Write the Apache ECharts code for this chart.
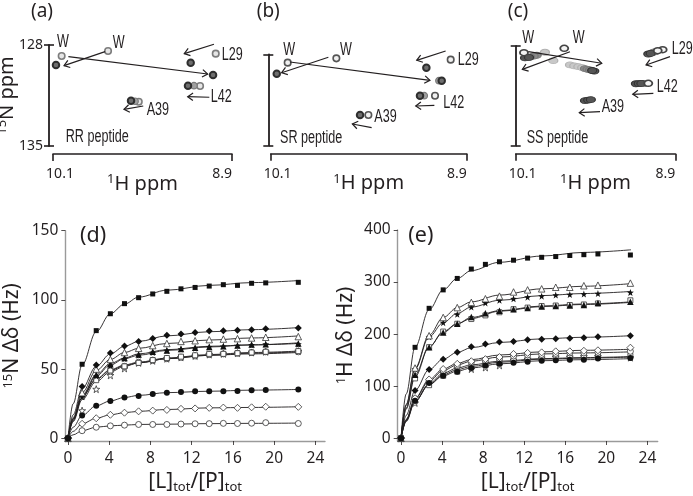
<!DOCTYPE html>
<html><head><meta charset="utf-8">
<style>html,body{margin:0;padding:0;background:#fff}#c{width:693px;height:496px}</style>
<script src="https://cdn.jsdelivr.net/npm/echarts@6/dist/echarts.min.js"></script>
</head><body><div id="c"></div>
<script>
// ---------- titration panels (d), (e) ----------
const ratioX = [0,1.37,2.74,4.11,5.48,6.85,8.22,9.59,10.96,12.33,13.7,15.07,16.44,17.81,19.18,22.34];
const curveX = [0,0.5,1.37,2.74,4.11,5.48,6.85,9.59,13.7,17.81,22.4];
const xTicks = [0,4,8,12,16,20,24];
const dTicks = [0,50,100,150];
const eTicks = [0,100,200,300,400];

const dSquareF = [0,53.5,77.8,90,97.3,101.6,104.3,106.2,108,109,110,111,110.5,112,112.3,112.7];
const dDiamondF = [0,37.5,53,61.6,66.7,70,72.2,74.4,75.4,76.5,77.5,77.8,78,78.5,79.2,79.7];
const dTriangleO = [0,33,50,57,62,65,67,68.5,70,70.5,71.3,71.7,72,72.5,73,73.5];
const dTriangleF = [0,32,46,53.5,58,60.5,62.5,63.5,64.5,65.5,66,66.5,67,67.8,68,68.5];
const dStarF = [0,30,45,52.5,57.5,60,62,63.5,64.5,65,66,66.5,67,67.5,68,68];
const dSquareO = [0,30,42,49,52,54.5,56.5,58,59,60,61,61,61.5,62,62.5,63];
const dCircleO = [0,31,43,48.5,52,55,56.5,57.5,58.5,59.5,60.5,61,61.5,62,62.5,62.5];
const dStarO = [0,20,35.5,45.5,50.5,54.5,56,57.5,58.5,59.5,60.5,61,61.5,62,62.5,63];
const dCircleF = [0,16.5,23.5,27,29.5,30.5,32,33,33.5,34,34,34,34.2,34.7,34.9,35.3];
const dDiamondO = [0,10.5,14.5,17,18.5,19.5,20,20.5,21.3,21.6,22,22.2,22,22.4,22.8,22.7];
const dCircleO2 = [0,5.5,8,9,9.5,10,10,10,10.3,10.5,10.6,10.8,10.7,10.9,11.3,10.7];

const dFitSquareF = [0,25,53,77,90,97,102,107,110.5,112.5,114];
const dFitDiamondF = [0,17,36,52,61,66.5,70,74,77,78.5,80];
const dFitTriangleO = [0,15,33,49,57,62,65,68.5,71,72.5,74];
const dFitTriangleF = [0,14,31,46,54,58,61,64,66.5,67.5,69];
const dFitStarF = [0,14,30,45,53,57.5,60,63.5,66,67.5,68.5];
const dFitSquareO = [0,13,30,43,49.5,53,55,58,60.5,62,63];
const dFitCircleO = [0,13,30,42.5,49,52.5,54.5,57.5,60,61,62];
const dFitStarO = [0,12,28,41,48,52,54.5,57.5,60,61.5,62.5];
const dFitCircleF = [0,8,16.5,23.5,27,29.5,31,33,34,34.8,35.3];
const dFitDiamondO = [0,5,10.5,14.5,17,18.5,19.5,20.8,22,22.3,22.8];
const dFitCircleO2 = [0,2.5,5.5,8,9,9.5,10,10.2,10.6,10.8,11];

const eSquareF = [0,174.7,249.6,285,307,325,334,339,342,346,347.5,349,351,352.6,354,352];
const eTriangleO = [0,135,197,232,251,261,268,273,281,285,287,290,290,293,294,298];
const eStarF = [0,133,195,222,238,252,260,265,268,271,273,275,276,277,278,280];
const eTriangleF = [0,122,175,203,220,233,240,245,248,250,253,254,255,256,260,262];
const eSquareO = [0,115,175,205,220,229,236,242,248,251,254,255,256,257,259,265];
const eDiamondF = [0,92,132,152,165,176,181,185,186,189,190,191,192,193,195,197];
const eDiamondO = [0,77,113,133,143,148,152,156,162,164,165,167,167,168,169,174];
const eCircleO = [0,76,110,130,140,146,149,153,158,160,161,163,164,164,165,167];
const eStarO = [0,68,105,125,135,133,136,140,150,152,154,156,156,157,157,155];
const eSquareO2 = [0,72,102,120,128,137,143,147,150,152,153,155,155,156,157,158];
const eCircleF = [0,72,106,120,128,135,140,143,145,147,149,150,151,151,153,154];

const eFitSquareF = [0,85,175,247,285,307,322,338,350,357,362];
const eFitTriangleO = [0,65,135,198,232,251,262,275,287,292,297];
const eFitStarF = [0,63,133,195,222,240,252,265,274,278,282];
const eFitTriangleF = [0,58,122,176,203,220,232,245,254,258,262];
const eFitSquareO = [0,56,118,175,205,220,230,244,253,257,261];
const eFitDiamondF = [0,44,92,132,152,165,174,184,191,194,197];
const eFitDiamondO = [0,36,77,113,133,144,151,160,166,169,171];
const eFitCircleO = [0,36,76,110,130,141,148,156,162,164,166];
const eFitStarO = [0,32,70,105,125,135,141,148,153,155,157];
const eFitSquareO2 = [0,34,72,103,122,132,138,146,152,154,156];
const eFitCircleF = [0,34,72,103,120,129,135,143,149,151,153];

// ---------- spectra panels (a), (b), (c): [1H ppm, 15N ppm] ----------
const hTicks = [10.1,8.9];
const nTicks = [128,135];
const aPeaksDark = [[10.08,129.39],[9.177,129.23],[9.027,130.08],[9.195,130.82],[9.577,131.86]];
const aPeaksMid = [[9.155,130.82],[9.55,131.9]];
const aPeaksLight = [[10.042,128.76],[9.731,128.42],[9.009,128.60],[9.114,130.84],[9.525,131.93]];
const aArrows = [[9.751,128.46,10.026,129.43],[9.997,128.81,9.063,130.01],[9.021,127.95,9.22,128.60],[9.052,131.62,9.197,131.58],[9.495,132.23,9.624,132.46]];
const bPeaksDark = [[10.063,129.49],[9.147,129.03],[9.053,130.02],[9.186,131.17],[9.553,132.65]];
const bPeaksMid = [[9.07,130.02],[9.16,131.17]];
const bPeaksLight = [[9.996,128.64],[9.698,128.31],[8.998,128.41],[9.094,131.17],[9.502,132.65]];
const bArrows = [[9.747,128.23,10.033,129.41],[9.982,128.59,9.125,129.99],[9.029,127.75,9.206,128.46],[9.098,131.91,9.212,131.96],[9.482,133.62,9.6,133.34]];
const cPeaksDark = [[9.509,129.76],[9.525,129.72],[10.03,128.84],[10.0,128.8],[9.103,128.56],[9.085,128.52],[9.196,130.65],[9.175,130.64],[9.155,130.63],[9.579,131.84],[9.555,131.8],[9.535,131.77]];
const cPeaksMid = [[9.579,129.59],[9.56,129.64],[9.541,129.68],[9.942,128.65],[9.965,128.7],[9.992,128.77],[9.065,128.44],[9.05,128.4],[9.141,130.62],[9.125,130.62]];
const cPeaksPale = [[9.88,128.44],[9.817,129.03],[9.692,129.33],[9.66,129.4],[9.629,129.45],[9.6,129.52]];
const cPeaksFree = [[10.038,128.47],[9.735,128.16],[8.995,128.26],[9.032,128.33],[9.103,130.62]];
const cArrows = [[9.692,128.40,10.05,129.64],[10.005,128.40,9.453,129.21],[8.94,128.75,9.12,129.33],[9.065,131.32,9.22,131.39],[9.466,132.61,9.622,132.68]];

// ---------- styles ----------
const INK = '#231f20';
const GREY = '#9a9a9a';
const FONT = '"Noto Sans"';
const STAR = 'path://M0,-10L2.35,-3.24L9.51,-3.09L3.8,1.24L5.88,8.09L0,4L-5.88,8.09L-3.8,1.24L-9.51,-3.09L-2.35,-3.24Z';
const SHAPE = {square:['rect',5,1],diamond:['diamond',7,1],triangle:['triangle',6.5,1],star:[STAR,7,1],circle:['circle',6,1]};

const grids = [
  {left:53,top:45,width:179,height:101,outerBoundsMode:'none'},
  {left:270.7,top:54.3,width:196,height:91.4,outerBoundsMode:'none'},
  {left:515.7,top:46,width:159.6,height:99.7,outerBoundsMode:'none'},
  {left:65.3,top:230.7,width:259.7,height:210.3,outerBoundsMode:'none'},
  {left:397.7,top:230,width:260,height:211,outerBoundsMode:'none'}
];
const rich = {s:{fontSize:13,fontFamily:FONT,color:INK,verticalAlign:'top',lineHeight:22,padding:[0,0,6,0]},
              b:{fontSize:13,fontFamily:FONT,color:INK,verticalAlign:'bottom',lineHeight:24,padding:[8,0,0,0]}};
const nameStyle = {fontSize:21,fontFamily:FONT,color:INK,rich:rich};
const specNameStyle = {fontSize:20,fontFamily:FONT,color:INK,rich:rich};

function specX(i,offset){
  return {gridIndex:i,type:'value',inverse:true,min:8.9,max:10.1,position:'bottom',offset:offset,
    name:'{s|1}H ppm',nameLocation:'middle',nameGap:19,nameMoveOverlap:false,nameTextStyle:specNameStyle,
    splitLine:{show:false},
    axisLine:{show:true,onZero:false,lineStyle:{color:INK,width:1.6}},
    axisTick:{show:true,customValues:hTicks,length:7,lineStyle:{color:INK,width:1.6}},
    axisLabel:{show:true,customValues:hTicks,margin:13,fontSize:14,fontFamily:FONT,color:INK,
      alignMinLabel:'center',alignMaxLabel:'right',
      formatter:v=>v>9.5?'{l|'+v.toFixed(1)+'}':v.toFixed(1),
      rich:{l:{fontSize:14,fontFamily:FONT,color:INK,padding:[0,0,0,14]}}}};
}
function specY(i,offset,nm){
  return {gridIndex:i,type:'value',inverse:true,min:128,max:135,position:'left',offset:offset,
    name:nm,nameLocation:'middle',nameRotate:90,nameGap:31,nameMoveOverlap:false,nameTextStyle:specNameStyle,
    splitLine:{show:false},
    axisLine:{show:true,onZero:false,lineStyle:{color:INK,width:1.8}},
    axisTick:{show:true,customValues:nTicks,length:5,lineStyle:{color:INK,width:1.6}},
    axisLabel:{show:i===0,customValues:nTicks,margin:6,fontSize:14,fontFamily:FONT,color:INK}};
}
function specYInner(i,offset){
  return {gridIndex:i,type:'value',inverse:true,min:128,max:135,position:'left',offset:offset,
    splitLine:{show:false},axisLine:{show:false},axisLabel:{show:false},
    axisTick:{show:true,inside:true,customValues:nTicks,length:5,lineStyle:{color:INK,width:1.6}}};
}
function titX(i,min,max){
  return {gridIndex:i,type:'value',min:min,max:max,position:'bottom',
    name:'[L]{b|tot}/[P]{b|tot}',nameLocation:'middle',nameGap:29,nameMoveOverlap:false,nameTextStyle:nameStyle,
    splitLine:{show:false},
    axisLine:{show:true,onZero:false,lineStyle:{color:GREY,width:1.4}},
    axisTick:{show:true,customValues:xTicks,length:4,lineStyle:{color:INK,width:0.8}},
    axisLabel:{show:true,customValues:xTicks,margin:10,fontSize:15.5,fontFamily:FONT,color:INK}};
}
function titY(i,min,max,ticks,nm,gap){
  return {gridIndex:i,type:'value',min:min,max:max,position:'left',
    name:nm,nameLocation:'middle',nameRotate:90,nameGap:gap,nameMoveOverlap:false,nameTextStyle:nameStyle,
    splitLine:{show:false},
    axisLine:{show:true,onZero:false,lineStyle:{color:GREY,width:1.4}},
    axisTick:{show:true,customValues:ticks,length:4,lineStyle:{color:INK,width:0.8}},
    axisLabel:{show:true,customValues:ticks,margin:7,fontSize:15.5,fontFamily:FONT,color:INK}};
}

const xAxis = [specX(0,8),specX(1,8),specX(2,8),titX(3,-0.26,24.93),titX(4,-0.32,25)];
const yAxis = [
  specY(0,4,'{s|15}N ppm'),specYInner(0,4),
  specY(1,2.4,''),specYInner(1,2.4),
  specY(2,0,''),specYInner(2,0),
  titY(3,-1.95,150,dTicks,'{s|15}N Δδ (Hz)',42),
  titY(4,-5.2,400,eTicks,'{s|1}H Δδ (Hz)',41)
];

const series = [];
function peaks(name,xi,yi,data,fill,border,bw,size){
  series.push({name:name,type:'scatter',xAxisIndex:xi,yAxisIndex:yi,data:data,symbol:'circle',symbolSize:size,
    itemStyle:{color:fill,borderColor:border,borderWidth:bw,opacity:1},z:3,clip:false,silent:true});
}
function arrows(name,xi,yi,data){
  series.push({name:name,type:'custom',xAxisIndex:xi,yAxisIndex:yi,data:data,z:5,clip:false,silent:true,
    encode:{x:[0,2],y:[1,3]},
    renderItem:function(p,api){
      const a=api.coord([api.value(0),api.value(1)]), b=api.coord([api.value(2),api.value(3)]);
      const t=Math.atan2(b[1]-a[1],b[0]-a[0]), L=6.5, w=0.62;
      const h1=[b[0]-L*Math.cos(t-w),b[1]-L*Math.sin(t-w)], h2=[b[0]-L*Math.cos(t+w),b[1]-L*Math.sin(t+w)];
      const st={stroke:INK,lineWidth:1.2,fill:null};
      return {type:'group',children:[
        {type:'line',shape:{x1:a[0],y1:a[1],x2:b[0],y2:b[1]},style:st},
        {type:'polyline',shape:{points:[h1,b,h2]},style:st}]};
    }});
}
peaks('a free',0,0,aPeaksLight,'#e6e6e6','#7d7d7d',1.6,6.5);
peaks('a mid',0,0,aPeaksMid,'#a0a0a0','#7a7a7a',1.2,6.5);
peaks('a bound',0,0,aPeaksDark,'#6e6e6e','#2e2e2e',2,6.5);
arrows('a arrows',0,0,aArrows);
peaks('b free',1,2,bPeaksLight,'#f0f0f0','#555',1.6,6.5);
peaks('b mid',1,2,bPeaksMid,'#a0a0a0','#7a7a7a',1.2,6.5);
peaks('b bound',1,2,bPeaksDark,'#6e6e6e','#2e2e2e',2,6.5);
arrows('b arrows',1,2,bArrows);
peaks('c pale',2,4,cPeaksPale,'#c8c8c8','#b0b0b0',1,[9,6]);
peaks('c mid',2,4,cPeaksMid,'#8a8a8a','#777',1,[9,6]);
peaks('c bound',2,4,cPeaksDark,'#555','#333',1,[9,6]);
peaks('c free',2,4,cPeaksFree,'#f4f4f4','#444',1.6,[8,6]);
arrows('c arrows',2,4,cArrows);

function titration(name,xi,yi,fit,values,shape,filled){
  const s=SHAPE[shape];
  series.push({name:name+' fit',type:'line',xAxisIndex:xi,yAxisIndex:yi,
    data:curveX.map((x,i)=>[x,fit[i]]),showSymbol:false,smooth:0.35,smoothMonotone:'x',
    lineStyle:{color:INK,width:0.9},z:2,clip:false,silent:true});
  series.push({name:name,type:'scatter',xAxisIndex:xi,yAxisIndex:yi,
    data:ratioX.map((x,i)=>[x,values[i]]),symbol:s[0],symbolSize:s[1],
    itemStyle:{color:filled?'#111':'#fff',borderColor:filled?'#111':'#333',borderWidth:filled?0:0.8,opacity:1},z:3,clip:false,silent:true});
}
const dDefs = [
 ['d1',dFitCircleO2,dCircleO2,'circle',0],['d2',dFitDiamondO,dDiamondO,'diamond',0],['d4',dFitStarO,dStarO,'star',0],
 ['d5',dFitCircleO,dCircleO,'circle',0],['d6',dFitSquareO,dSquareO,'square',0],
 ['d7',dFitStarF,dStarF,'star',1],['d8',dFitTriangleF,dTriangleF,'triangle',1],['d9',dFitTriangleO,dTriangleO,'triangle',0],
 ['d10',dFitDiamondF,dDiamondF,'diamond',1],['d11',dFitSquareF,dSquareF,'square',1],['d3',dFitCircleF,dCircleF,'circle',1]];
const eDefs = [
 ['e1',eFitStarO,eStarO,'star',0],['e2',eFitSquareO2,eSquareO2,'square',0],['e3',eFitCircleO,eCircleO,'circle',0],
 ['e4',eFitDiamondO,eDiamondO,'diamond',0],['e6',eFitDiamondF,eDiamondF,'diamond',1],
 ['e7',eFitSquareO,eSquareO,'square',0],['e8',eFitTriangleF,eTriangleF,'triangle',1],['e9',eFitStarF,eStarF,'star',1],
 ['e10',eFitTriangleO,eTriangleO,'triangle',0],['e11',eFitSquareF,eSquareF,'square',1],['e5',eFitCircleF,eCircleF,'circle',1]];
dDefs.forEach(d=>titration(d[0],3,6,d[1],d[2],d[3],d[4]));
eDefs.forEach(d=>titration(d[0],4,7,d[1],d[2],d[3],d[4]));

// text annotations
const panelLabels = [['(a)',31,12,19],['(b)',256.7,12,19],['(c)',507.7,12,19],['(d)',80,236,21.5],['(e)',408.3,236,21.5]];
const peakLabels = [
 ['W',57,42],['W',112.7,43],['L29',221.7,55],['L42',210.7,97],['A39',146.7,110],
 ['W',283.3,50],['W',340,50],['L29',457.7,60],['L42',443.3,103],['A39',374.3,117],
 ['W',522.3,38],['W',572.7,38],['L29',671.7,49],['L42',656.7,87],['A39',601.7,107]];
const peptideLabels = [['RR peptide',65.7,137],['SR peptide',280,138],['SS peptide',526.7,138]];
const graphic = [];
panelLabels.forEach(t=>graphic.push({type:'text',x:t[1],y:t[2],style:{text:t[0],fontSize:t[3],fontFamily:FONT,fill:INK,textAlign:'left',textVerticalAlign:'middle'}}));
peakLabels.concat(peptideLabels).forEach(t=>graphic.push({type:'text',x:t[1],y:t[2],scaleX:0.7,z:10,
  style:{text:t[0],fontSize:18,fontFamily:'"Liberation Sans"',fill:INK,textAlign:'left',textVerticalAlign:'middle'}}));

const chart = echarts.init(document.getElementById('c'),null,{renderer:'canvas'});
chart.setOption({animation:false,backgroundColor:'#fff',grid:grids,xAxis:xAxis,yAxis:yAxis,series:series,graphic:graphic});
</script></body></html>
